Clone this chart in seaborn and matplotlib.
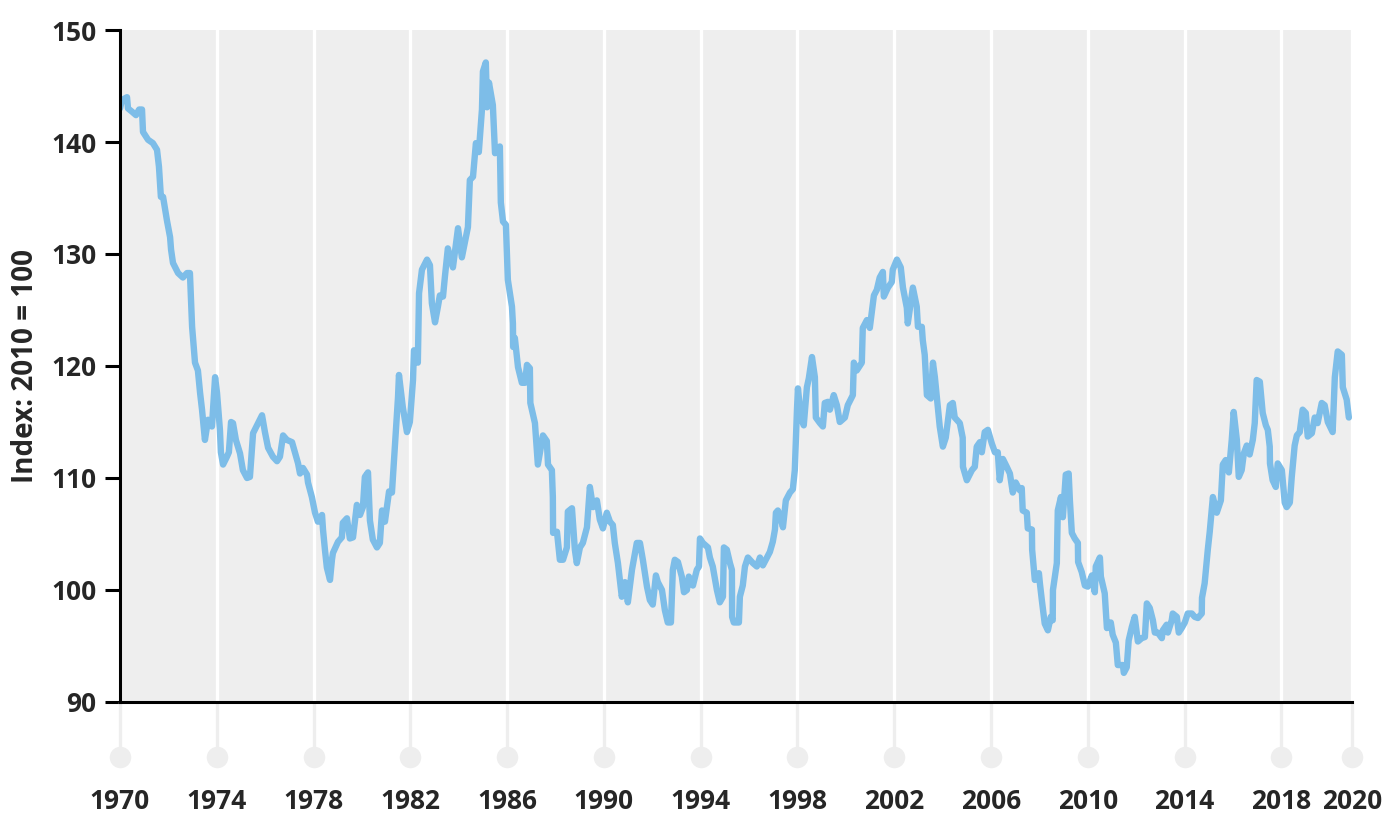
import numpy as np
import pandas as pd
import seaborn as sns
import matplotlib.pyplot as plt
from matplotlib.transforms import blended_transform_factory

# Index: 2010 = 100
years = [
    1970.00, 1970.08, 1970.29, 1970.33, 1970.50, 1970.66, 1970.79, 1970.91, 1970.95, 1971.16,
    1971.36, 1971.53, 1971.61, 1971.69, 1971.78, 1971.94, 1972.07, 1972.11, 1972.19, 1972.40,
    1972.60, 1972.77, 1972.89, 1972.98, 1973.10, 1973.22, 1973.31, 1973.39, 1973.51, 1973.64,
    1973.80, 1973.93, 1974.01, 1974.13, 1974.17, 1974.26, 1974.42, 1974.50, 1974.59, 1974.67,
    1974.79, 1974.96, 1975.08, 1975.25, 1975.37, 1975.50, 1975.66, 1975.87, 1975.99, 1976.12,
    1976.32, 1976.49, 1976.61, 1976.74, 1976.90, 1977.11, 1977.23, 1977.36, 1977.44, 1977.56,
    1977.73, 1977.77, 1977.93, 1978.06, 1978.18, 1978.35, 1978.39, 1978.47, 1978.55, 1978.68,
    1978.76, 1978.80, 1979.01, 1979.17, 1979.21, 1979.38, 1979.50, 1979.63, 1979.79, 1979.92,
    1980.04, 1980.12, 1980.25, 1980.33, 1980.45, 1980.62, 1980.74, 1980.83, 1980.95, 1981.12,
    1981.24, 1981.36, 1981.49, 1981.53, 1981.69, 1981.86, 1981.98, 1982.11, 1982.15, 1982.31,
    1982.36, 1982.48, 1982.69, 1982.81, 1982.89, 1983.02, 1983.14, 1983.22, 1983.35, 1983.43,
    1983.55, 1983.76, 1983.97, 1984.13, 1984.38, 1984.46, 1984.59, 1984.71, 1984.83, 1984.96,
    1985.00, 1985.12, 1985.17, 1985.25, 1985.41, 1985.50, 1985.70, 1985.74, 1985.83, 1985.95,
    1986.03, 1986.20, 1986.24, 1986.25, 1986.32, 1986.45, 1986.61, 1986.74, 1986.82, 1986.94,
    1986.96, 1987.15, 1987.27, 1987.48, 1987.64, 1987.69, 1987.85, 1987.89, 1987.90, 1988.06,
    1988.18, 1988.31, 1988.47, 1988.51, 1988.68, 1988.80, 1988.88, 1989.01, 1989.13, 1989.30,
    1989.42, 1989.55, 1989.71, 1989.83, 1989.96, 1990.12, 1990.25, 1990.37, 1990.45, 1990.58,
    1990.74, 1990.87, 1990.99, 1991.16, 1991.36, 1991.49, 1991.61, 1991.78, 1991.90, 1992.02,
    1992.15, 1992.23, 1992.40, 1992.52, 1992.64, 1992.77, 1992.85, 1992.93, 1993.06, 1993.22,
    1993.31, 1993.43, 1993.51, 1993.68, 1993.84, 1993.93, 1993.97, 1994.09, 1994.30, 1994.38,
    1994.50, 1994.67, 1994.79, 1994.92, 1994.96, 1995.08, 1995.21, 1995.29, 1995.30, 1995.37,
    1995.58, 1995.62, 1995.74, 1995.83, 1995.95, 1996.16, 1996.32, 1996.45, 1996.57, 1996.74,
    1996.86, 1996.98, 1997.07, 1997.11, 1997.19, 1997.27, 1997.40, 1997.52, 1997.69, 1997.81,
    1997.89, 1997.98, 1998.02, 1998.14, 1998.26, 1998.39, 1998.47, 1998.60, 1998.72, 1998.76,
    1998.93, 1999.05, 1999.13, 1999.26, 1999.34, 1999.50, 1999.63, 1999.75, 1999.96, 2000.08,
    2000.29, 2000.33, 2000.45, 2000.66, 2000.70, 2000.87, 2000.99, 2001.16, 2001.28, 2001.40,
    2001.53, 2001.57, 2001.74, 2001.90, 2001.94, 2002.11, 2002.27, 2002.36, 2002.52, 2002.56,
    2002.77, 2002.93, 2002.98, 2003.14, 2003.18, 2003.26, 2003.35, 2003.51, 2003.60, 2003.68,
    2003.76, 2003.88, 2004.01, 2004.13, 2004.30, 2004.42, 2004.50, 2004.71, 2004.83, 2004.84,
    2005.00, 2005.21, 2005.33, 2005.41, 2005.54, 2005.62, 2005.74, 2005.87, 2006.03, 2006.16,
    2006.28, 2006.36, 2006.49, 2006.65, 2006.78, 2006.90, 2007.02, 2007.19, 2007.27, 2007.31,
    2007.48, 2007.52, 2007.69, 2007.70, 2007.81, 2007.98, 2008.02, 2008.10, 2008.22, 2008.35,
    2008.47, 2008.55, 2008.56, 2008.72, 2008.76, 2008.89, 2008.97, 2009.09, 2009.21, 2009.26,
    2009.34, 2009.46, 2009.59, 2009.60, 2009.75, 2009.88, 2010.00, 2010.17, 2010.29, 2010.33,
    2010.50, 2010.54, 2010.70, 2010.79, 2010.95, 2011.03, 2011.16, 2011.24, 2011.45, 2011.49,
    2011.61, 2011.69, 2011.82, 2011.94, 2012.07, 2012.23, 2012.36, 2012.44, 2012.56, 2012.69,
    2012.77, 2012.89, 2013.06, 2013.10, 2013.26, 2013.31, 2013.47, 2013.51, 2013.68, 2013.76,
    2013.88, 2014.01, 2014.13, 2014.30, 2014.42, 2014.55, 2014.71, 2014.72, 2014.83, 2014.96,
    2015.04, 2015.17, 2015.33, 2015.50, 2015.58, 2015.70, 2015.83, 2015.95, 2016.03, 2016.16,
    2016.24, 2016.36, 2016.45, 2016.57, 2016.69, 2016.82, 2016.90, 2016.98, 2017.11, 2017.23,
    2017.36, 2017.44, 2017.52, 2017.53, 2017.64, 2017.77, 2017.85, 2018.02, 2018.14, 2018.22,
    2018.35, 2018.43, 2018.55, 2018.64, 2018.76, 2018.88, 2019.01, 2019.09, 2019.26, 2019.38,
    2019.50, 2019.67, 2019.79, 2019.92, 2020.12, 2020.21, 2020.33, 2020.50, 2020.54, 2020.70,
    2020.79,
]
index_values = [
    143.0, 143.75, 144.0, 143.0, 142.7, 142.4, 142.9, 142.9, 140.9, 140.2,
    139.9, 139.3, 137.8, 135.1, 135.1, 133.0, 131.5, 130.4, 129.2, 128.3,
    127.9, 128.3, 128.3, 123.5, 120.3, 119.6, 117.6, 116.1, 113.4, 115.2,
    114.6, 119.0, 117.6, 114.3, 112.3, 111.2, 111.9, 112.3, 115.0, 114.9,
    113.4, 112.2, 110.7, 110.0, 110.1, 114.0, 114.7, 115.6, 114.1, 112.7,
    111.9, 111.5, 111.9, 113.8, 113.4, 113.2, 112.3, 111.3, 110.4, 110.9,
    110.3, 109.6, 108.3, 106.9, 106.1, 106.7, 105.4, 103.6, 102.0, 100.9,
    102.7, 103.3, 104.3, 104.7, 106.0, 106.4, 104.6, 104.7, 107.6, 106.7,
    107.4, 110.1, 110.5, 106.2, 104.5, 103.8, 104.2, 107.1, 106.1, 108.8,
    108.7, 112.8, 117.2, 119.2, 116.3, 114.1, 115.0, 118.75, 121.4, 120.3,
    126.5, 128.6, 129.5, 129.0, 125.6, 123.9, 125.3, 126.3, 126.2, 128.0,
    130.5, 128.8, 132.3, 129.7, 132.4, 136.6, 136.9, 139.9, 139.1, 142.9,
    146.3, 147.1, 143.1, 145.3, 143.3, 139.0, 139.6, 134.6, 132.9, 132.6,
    127.7, 125.3, 123.8, 121.7, 122.5, 119.9, 118.5, 118.5, 120.1, 119.8,
    116.7, 114.9, 111.2, 113.8, 113.3, 111.2, 110.7, 108.3, 105.1, 105.2,
    102.7, 102.7, 103.8, 107.0, 107.3, 103.6, 102.4, 103.8, 104.2, 105.6,
    109.2, 107.4, 108.0, 106.3, 105.5, 106.9, 106.1, 105.8, 104.2, 102.4,
    99.4, 100.7, 98.9, 101.8, 104.2, 104.2, 102.7, 100.3, 99.1, 98.7,
    101.3, 100.7, 100.0, 98.2, 97.1, 97.1, 101.8, 102.7, 102.5, 101.2,
    99.8, 100.0, 101.2, 100.4, 101.8, 102.1, 104.6, 104.2, 103.8, 102.9,
    102.1, 100.0, 98.9, 99.4, 103.8, 103.6, 102.4, 101.8, 97.6, 97.1,
    97.1, 99.4, 100.4, 102.1, 102.9, 102.4, 102.1, 102.9, 102.2, 102.9,
    103.4, 104.3, 105.4, 106.9, 107.1, 106.7, 105.6, 108.0, 108.7, 109.0,
    110.7, 116.1, 118.0, 115.4, 114.7, 118.1, 118.9, 120.8, 119.0, 115.4,
    114.9, 114.6, 116.7, 116.8, 116.1, 117.4, 116.5, 115.0, 115.4, 116.5,
    117.4, 120.3, 119.6, 120.3, 123.4, 124.1, 123.4, 126.3, 126.8, 127.9,
    128.4, 126.2, 127.0, 127.5, 128.6, 129.5, 128.8, 127.0, 125.2, 123.8,
    127.0, 125.3, 123.5, 123.5, 122.3, 121.0, 117.4, 117.1, 120.3, 119.0,
    117.2, 114.6, 112.8, 113.6, 116.5, 116.7, 115.4, 114.9, 113.6, 111.0,
    109.8, 110.7, 111.0, 112.8, 113.2, 112.3, 114.1, 114.3, 113.1, 112.3,
    112.3, 109.8, 111.7, 111.0, 110.4, 108.7, 109.6, 108.9, 109.1, 107.1,
    106.9, 105.5, 105.4, 103.6, 100.9, 101.5, 100.6, 99.1, 97.0, 96.4,
    97.6, 97.3, 100.0, 102.4, 107.1, 108.3, 106.5, 110.3, 110.4, 108.0,
    105.1, 104.6, 104.2, 102.5, 101.6, 100.4, 100.3, 101.3, 99.8, 102.1,
    102.9, 101.2, 99.7, 96.6, 97.1, 96.0, 95.3, 93.3, 93.3, 92.6,
    93.1, 95.5, 96.7, 97.6, 95.4, 95.7, 95.8, 98.8, 98.4, 97.3,
    96.2, 96.2, 95.7, 96.4, 96.9, 96.2, 97.3, 97.9, 97.6, 96.2,
    96.6, 97.1, 97.9, 97.9, 97.6, 97.5, 97.9, 99.3, 100.6, 103.6,
    105.2, 108.3, 106.9, 108.0, 111.2, 111.6, 110.5, 113.4, 115.9, 113.4,
    110.1, 110.7, 112.2, 112.9, 112.1, 113.4, 114.9, 118.75, 118.6, 115.8,
    114.7, 114.3, 112.8, 111.3, 109.8, 109.2, 111.3, 110.7, 107.8, 107.4,
    107.8, 110.1, 112.9, 113.8, 114.1, 116.1, 115.8, 113.7, 114.0, 115.4,
    114.9, 116.7, 116.5, 115.0, 114.1, 119.0, 121.3, 121.0, 118.1, 117.0,
    115.4,
]

x_ticks = [1970, 1974, 1978, 1982, 1986, 1990, 1994, 1998, 2002, 2006, 2010, 2014, 2018, 2020.92]
x_tick_labels = ["1970", "1974", "1978", "1982", "1986", "1990", "1994", "1998",
                 "2002", "2006", "2010", "2014", "2018", "2020"]
y_ticks = [90, 100, 110, 120, 130, 140, 150]

df = pd.DataFrame({"year": years, "index": index_values})

sns.set_style("white")
plt.rcParams["font.family"] = ["Open Sans", "DejaVu Sans"]
plt.rcParams["font.weight"] = "bold"

fig = plt.figure(figsize=(13.87, 8.16), dpi=100)
ax = fig.add_axes([120 / 1387, 114 / 816, 1232 / 1387, 672 / 816])
ax.set_facecolor("#eeeeee")

# white gridlines inside the panel, grey stems + dots below the axis
trans = blended_transform_factory(ax.transData, ax.transAxes)
for xt in x_ticks:
    ax.axvline(xt, color="white", lw=2.4, zorder=1)
    ax.plot([xt, xt], [0, -0.082], transform=trans, color="#eeeeee", lw=2.4,
            clip_on=False, zorder=1)
ax.scatter(x_ticks, [-0.082] * len(x_ticks), transform=trans, s=240,
           color="#eeeeee", clip_on=False, zorder=2, linewidths=0)

sns.lineplot(data=df, x="year", y="index", ax=ax, color="#7dbde8", lw=4.6,
             zorder=3, solid_joinstyle="round", solid_capstyle="round")

ax.set_xlim(1970, 2020.92)
ax.set_ylim(90, 150)
ax.set_xticks(x_ticks)
ax.set_xticklabels(x_tick_labels)
ax.set_yticks(y_ticks)
ax.tick_params(axis="x", length=0, pad=62, labelsize=19)
ax.tick_params(axis="y", length=10.8, width=2.2, color="black", pad=6, labelsize=19, left=True)
for lab in ax.get_xticklabels() + ax.get_yticklabels():
    lab.set_fontweight("bold")

ax.set_xlabel("")
ax.set_ylabel("Index: 2010 = 100", fontsize=20, fontweight="bold", labelpad=8)

for side in ["top", "right"]:
    ax.spines[side].set_visible(False)
for side in ["left", "bottom"]:
    ax.spines[side].set_color("black")
    ax.spines[side].set_linewidth(2.2)
    ax.spines[side].set_zorder(4)

fig.savefig("out.png", dpi=100)
